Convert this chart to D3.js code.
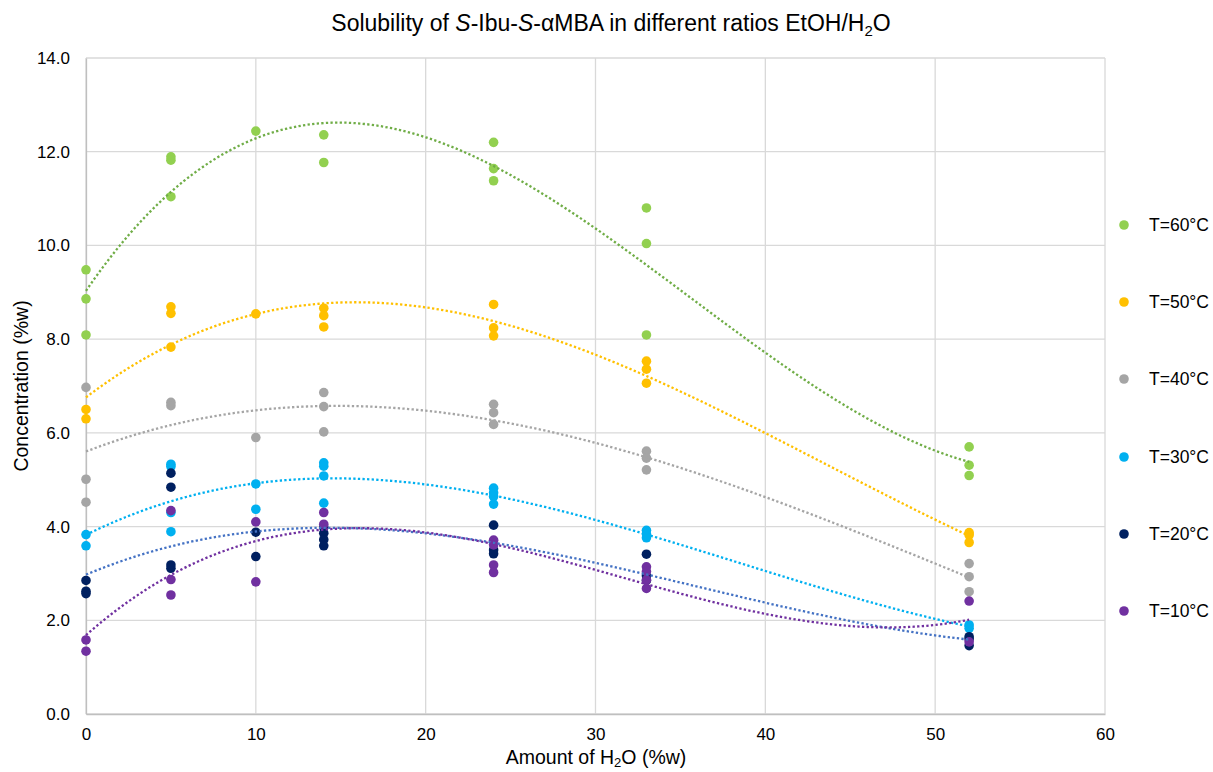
<!DOCTYPE html>
<html>
<head>
<meta charset="utf-8">
<script src="https://cdn.jsdelivr.net/npm/d3@7"></script>
<style>
  html, body { margin: 0; padding: 0; background: #fff; }
  svg { display: block; font-family: "Liberation Sans", Arial, sans-serif; }
</style>
</head>
<body>
<svg id="chart" width="1213" height="772"></svg>
<script>
// ---- Data ----
const seriesNames = ["T=60°C", "T=50°C", "T=40°C", "T=30°C", "T=20°C", "T=10°C"];
const xTicks = [0, 10, 20, 30, 40, 50, 60];
const yTicks = [0, 2, 4, 6, 8, 10, 12, 14];

const t60x = [0, 0, 0, 5, 5, 5, 10, 14, 14, 24, 24, 24, 33, 33, 33, 52, 52, 52];
const t60y = [9.48, 8.86, 8.09, 11.89, 11.82, 11.04, 12.44, 12.36, 11.77, 12.2, 11.64, 11.38, 10.8, 10.04, 8.09, 5.70, 5.31, 5.09];

const t50x = [0, 0, 5, 5, 5, 10, 14, 14, 14, 24, 24, 24, 33, 33, 33, 52, 52, 52];
const t50y = [6.50, 6.30, 8.69, 8.55, 7.83, 8.54, 8.66, 8.50, 8.26, 8.74, 8.24, 8.07, 7.53, 7.36, 7.06, 3.87, 3.82, 3.66];

const t40x = [0, 0, 0, 5, 5, 10, 14, 14, 14, 24, 24, 24, 33, 33, 33, 52, 52, 52];
const t40y = [6.97, 5.01, 4.52, 6.65, 6.58, 5.90, 6.86, 6.56, 6.02, 6.61, 6.43, 6.18, 5.61, 5.46, 5.21, 3.21, 2.93, 2.61];

const t30x = [0, 0, 5, 5, 5, 5, 10, 10, 14, 14, 14, 14, 24, 24, 24, 24, 33, 33, 33, 52, 52];
const t30y = [3.83, 3.59, 5.33, 5.28, 4.30, 3.89, 4.91, 4.37, 5.36, 5.29, 5.08, 4.50, 4.82, 4.72, 4.64, 4.48, 3.92, 3.84, 3.76, 1.90, 1.83];

const t20x = [0, 0, 0, 5, 5, 5, 5, 10, 10, 14, 14, 14, 14, 24, 24, 24, 33, 33, 33, 52, 52, 52];
const t20y = [2.85, 2.62, 2.57, 5.14, 4.84, 3.18, 3.11, 3.88, 3.36, 3.98, 3.86, 3.72, 3.59, 4.03, 3.50, 3.42, 3.41, 2.95, 2.85, 1.65, 1.60, 1.46];

const t10x = [0, 0, 5, 5, 5, 10, 10, 14, 14, 24, 24, 24, 24, 33, 33, 33, 33, 52, 52];
const t10y = [1.58, 1.34, 4.34, 2.87, 2.54, 4.10, 2.82, 4.30, 4.05, 3.71, 3.61, 3.18, 3.02, 3.14, 3.04, 2.86, 2.68, 2.41, 1.54];

const markerColors = ["#92D050", "#FFC000", "#A5A5A5", "#00B0F0", "#002060", "#7030A0"];
const trendColors  = ["#70AD47", "#FFC000", "#A5A5A5", "#00B0F0", "#4472C4", "#7030A0"];

const seriesX = [t60x, t50x, t40x, t30x, t20x, t10x];
const seriesY = [t60y, t50y, t40y, t30y, t20y, t10y];

// ---- Layout ----
const svg = d3.select("#chart");
const L = 86, R = 1105, T = 58, B = 714;
const x = d3.scaleLinear().domain([0, 60]).range([L, R]);
const y = d3.scaleLinear().domain([0, 14]).range([B, T]);

// gridlines
svg.append("g").selectAll("line.h").data(yTicks).join("line")
  .attr("x1", L).attr("x2", R)
  .attr("y1", d => y(d)).attr("y2", d => y(d))
  .attr("stroke", "#d9d9d9").attr("stroke-width", 1.3);
svg.append("g").selectAll("line.v").data(xTicks).join("line")
  .attr("x1", d => x(d)).attr("x2", d => x(d))
  .attr("y1", T).attr("y2", B)
  .attr("stroke", "#d9d9d9").attr("stroke-width", 1.3);

// axes
const xAxis = svg.append("g").attr("transform", `translate(0,${B})`)
  .call(d3.axisBottom(x).tickValues(xTicks).tickSize(0).tickPadding(14).tickFormat(d3.format("d")));
const yAxis = svg.append("g").attr("transform", `translate(${L},0)`)
  .call(d3.axisLeft(y).tickValues(yTicks).tickSize(0).tickPadding(16).tickFormat(d3.format(".1f")));
[xAxis, yAxis].forEach(a => {
  a.select(".domain").attr("stroke", "#bfbfbf").attr("stroke-width", 1.3);
  a.selectAll("text").attr("font-size", 17).attr("fill", "#000")
   .attr("font-family", "Liberation Sans, Arial, sans-serif");
});

// cubic least-squares fit
function polyfit(xs, ys, deg) {
  const n = deg + 1;
  const A = Array.from({length: n}, () => new Array(n + 1).fill(0));
  for (let k = 0; k < xs.length; k++) {
    for (let i = 0; i < n; i++) {
      for (let j = 0; j < n; j++) A[i][j] += Math.pow(xs[k], i + j);
      A[i][n] += ys[k] * Math.pow(xs[k], i);
    }
  }
  for (let i = 0; i < n; i++) {
    let p = i;
    for (let r = i + 1; r < n; r++) if (Math.abs(A[r][i]) > Math.abs(A[p][i])) p = r;
    [A[i], A[p]] = [A[p], A[i]];
    for (let r = 0; r < n; r++) {
      if (r === i) continue;
      const f = A[r][i] / A[i][i];
      for (let c = i; c <= n; c++) A[r][c] -= f * A[i][c];
    }
  }
  return A.map((row, i) => row[n] / row[i]);
}

// markers
seriesX.forEach((xs, s) => {
  const pts = xs.map((v, i) => [v, seriesY[s][i]]);
  svg.append("g").selectAll("circle").data(pts).join("circle")
    .attr("cx", d => x(d[0])).attr("cy", d => y(d[1]))
    .attr("r", 4.8).attr("fill", markerColors[s]);
});

// trendlines
const line = d3.line().x(d => x(d[0])).y(d => y(d[1])).curve(d3.curveLinear);
seriesX.forEach((xs, s) => {
  const c = polyfit(xs, seriesY[s], 3);
  const pts = d3.range(0, 52.01, 0.25).map(v => [v, c[0] + c[1]*v + c[2]*v*v + c[3]*v*v*v]);
  svg.append("path").datum(pts)
    .attr("d", line).attr("fill", "none")
    .attr("stroke", trendColors[s]).attr("stroke-width", 2.3)
    .attr("stroke-dasharray", "2.3,2.3");
});

// title
const title = svg.append("text").attr("x", 611).attr("y", 31)
  .attr("text-anchor", "middle").attr("font-size", 23).attr("fill", "#000");
title.append("tspan").text("Solubility of ");
title.append("tspan").attr("font-style", "italic").text("S");
title.append("tspan").text("-Ibu-");
title.append("tspan").attr("font-style", "italic").text("S");
title.append("tspan").text("-αMBA in different ratios EtOH/H");
title.append("tspan").attr("font-size", 15).attr("dy", 5).text("2");
title.append("tspan").attr("dy", -5).text("O");

// axis titles
const xt = svg.append("text").attr("x", 596).attr("y", 764)
  .attr("text-anchor", "middle").attr("font-size", 19.5).attr("fill", "#000");
xt.append("tspan").text("Amount of H");
xt.append("tspan").attr("font-size", 13).attr("dy", 3).text("2");
xt.append("tspan").attr("dy", -3).text("O (%w)");

svg.append("text").attr("transform", "translate(28,386) rotate(-90)")
  .attr("text-anchor", "middle").attr("font-size", 19.5).attr("fill", "#000")
  .text("Concentration (%w)");

// legend
const legY = [225, 302, 379, 457, 534, 611];
const leg = svg.append("g");
seriesNames.forEach((name, i) => {
  leg.append("circle").attr("cx", 1124).attr("cy", legY[i]).attr("r", 4.8).attr("fill", markerColors[i]);
  leg.append("text").attr("x", 1149).attr("y", legY[i] + 6).attr("font-size", 17.5).attr("fill", "#000").text(name);
});
</script>
</body>
</html>
